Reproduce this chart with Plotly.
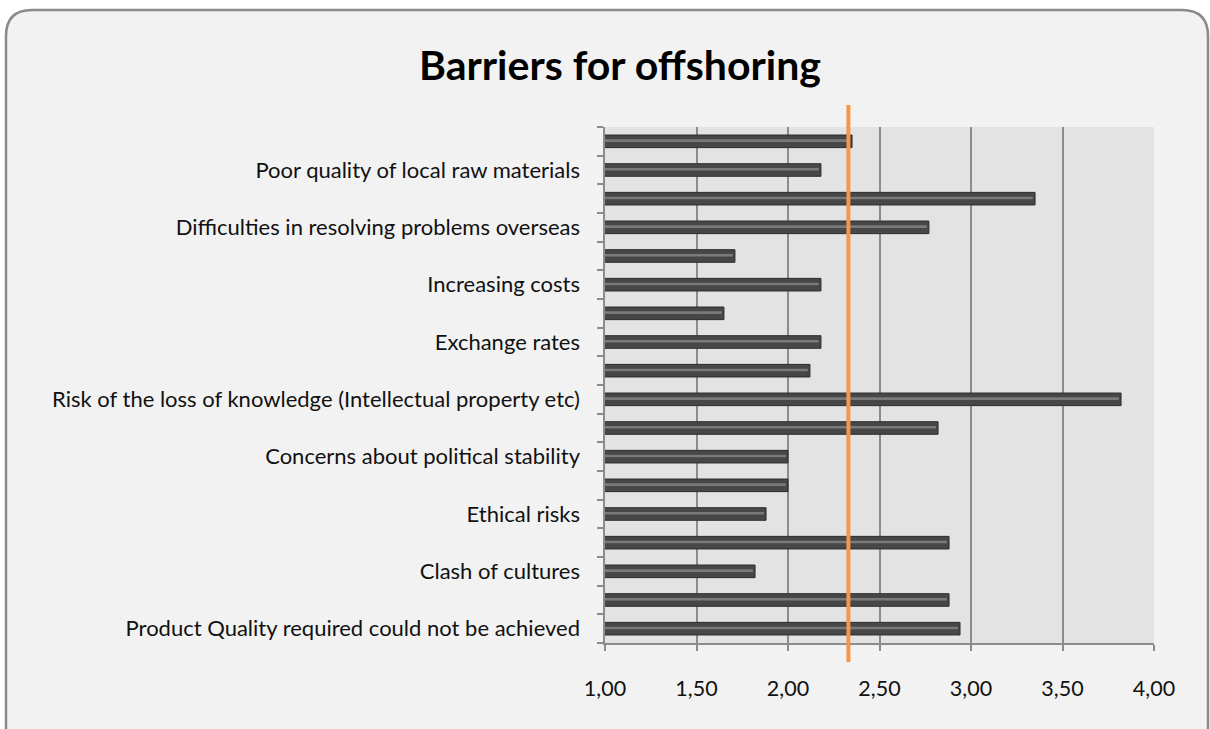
import plotly.graph_objects as go

# Data (listed bottom -> top, as the chart's category axis runs upward)
categories = [
    "Product Quality required could not be achieved",
    "",
    "Clash of cultures",
    "",
    "Ethical risks",
    "",
    "Concerns about political stability",
    "",
    "Risk of the loss of knowledge (Intellectual property etc)",
    "",
    "Exchange rates",
    "",
    "Increasing costs",
    "",
    "Difficulties in resolving problems overseas",
    "",
    "Poor quality of local raw materials",
    "",
]
values = [2.94, 2.88, 1.82, 2.88, 1.88, 2.00, 2.00, 2.82, 3.82,
          2.12, 2.18, 1.65, 2.18, 1.71, 2.77, 3.35, 2.18, 2.35]
reference_value = 2.33
x_ticks = [1.0, 1.5, 2.0, 2.5, 3.0, 3.5, 4.0]

W, H = 1210, 729
L, R, T, B = 605, 56, 127, 86
PW, PH = W - L - R, H - T - B

def px(x):
    return (x - L) / PW

def py(y):
    return (H - B - y) / PH

positions = list(range(len(categories)))
label_pos = [p for p, c in zip(positions, categories) if c]
label_txt = [c for c in categories if c]
boundaries = [p - 0.5 for p in positions] + [positions[-1] + 0.5]

fig = go.Figure()
fig.add_trace(go.Bar(
    x=values, y=positions, orientation="h", width=0.44,
    marker=dict(color="#474747", line=dict(color="#2e2e2e", width=1)),
    showlegend=False, hoverinfo="x",
))
# highlight stripe (simulated gradient)
fig.add_trace(go.Bar(
    x=[v - 0.012 for v in values], y=positions, orientation="h", width=0.09,
    offset=-0.02, yaxis="y2",
    marker=dict(color="#7a7a7a", line=dict(width=0)),
    showlegend=False, hoverinfo="skip",
))

# rounded border
x0, y0, x1, y1, r = 6, 10, 1208, 745, 26
path = (f"M {px(x0)},{py(y0 + r)} Q {px(x0)},{py(y0)} {px(x0 + r)},{py(y0)} "
        f"L {px(x1 - r)},{py(y0)} Q {px(x1)},{py(y0)} {px(x1)},{py(y0 + r)} "
        f"L {px(x1)},{py(y1)} L {px(x0)},{py(y1)} Z")
shapes = [
    dict(type="path", path=path, xref="paper", yref="paper",
         fillcolor="#f2f2f2", line=dict(color="#8a8a8a", width=2.5), layer="below"),
    dict(type="rect", xref="paper", yref="paper", x0=0, x1=1, y0=0, y1=1,
         fillcolor="#e3e3e3", line=dict(width=0), layer="below"),
    dict(type="line", xref="x", yref="paper", x0=reference_value, x1=reference_value,
         y0=py(662), y1=py(105), line=dict(color="#f79646", width=4), layer="above"),
]

font = "Lato, 'Open Sans', sans-serif"
fig.update_layout(
    width=W, height=H,
    margin=dict(l=L, r=R, t=T, b=B, pad=0),
    paper_bgcolor="white", plot_bgcolor="rgba(0,0,0,0)",
    separators=",.",
    barmode="overlay",
    shapes=shapes,
    font=dict(family=font, color="#111"),
    title=dict(text="<b>Barriers for offshoring</b>", x=620 / W, xanchor="center",
               xref="container", yref="container",
               y=1 - 66 / H, yanchor="middle", font=dict(size=41, color="#000")),
    xaxis=dict(range=[1, 4], tickvals=x_ticks, tickformat=".2f",
               showgrid=True, gridcolor="#8c8c8c", gridwidth=1.5,
               showline=True, linecolor="#8c8c8c", linewidth=1.5,
               ticks="outside", ticklen=6, tickcolor="#8c8c8c", tickwidth=1.5,
               tickfont=dict(size=21.5, color="#111"), ticklabelstandoff=19,
               zeroline=False, fixedrange=True),
    yaxis=dict(range=[-0.5, len(categories) - 0.5], tickvals=boundaries,
               ticktext=["" for _ in boundaries], showgrid=False,
               showline=True, linecolor="#8c8c8c", linewidth=1.5,
               ticks="outside", ticklen=6, tickcolor="#8c8c8c", tickwidth=1.5,
               zeroline=False, fixedrange=True),
    yaxis2=dict(overlaying="y", side="left", range=[-0.5, len(categories) - 0.5],
                tickvals=label_pos, ticktext=label_txt, showgrid=False,
                showline=False, ticks="", zeroline=False,
                tickfont=dict(size=22, color="#111"), ticklabelstandoff=24,
                fixedrange=True),
)
fig.write_html("out.html")
